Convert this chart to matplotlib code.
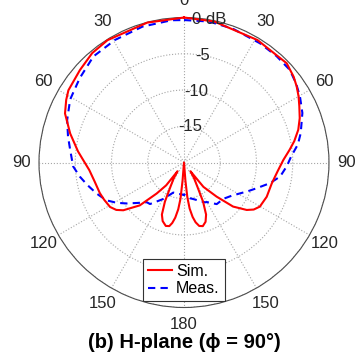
import numpy as np
import matplotlib.pyplot as plt

plt.rcParams['font.family'] = ['Liberation Sans', 'DejaVu Sans']

# simulated pattern (dB). right half: angle clockwise from 0; left half: angle counter-clockwise from 0
sim_right_ang = [0, 12, 31, 46, 52, 56, 60, 64, 69, 74, 79, 83, 88.6, 95, 103.3, 112.5, 120.2, 124,
                 127.1, 131.9, 136.3, 141.4, 143.5, 147, 151, 154, 157, 160, 163.5, 166.5, 169, 171,
                 173, 174.5, 175.5, 176.5, 180]
sim_right_db = [0, -0.1, -0.3, -0.3, -0.8, -1.25, -1.75, -2.3, -2.9, -3.6, -4.5, -5.3, -6.3, -7.0,
                -7.55, -7.65, -7.9, -8.4, -9.15, -10.9, -13.5, -15.7, -18.5, -17.5, -16.2, -14.0,
                -12.2, -11.3, -10.85, -11.0, -11.6, -12.4, -13.6, -15.2, -17.5, -20, -20]
sim_left_ang = [0, 14.7, 32, 40, 48.4, 58, 62, 67.6, 75.7, 84, 88, 94.6, 102, 110, 115, 121, 125,
                128.2, 134.1, 138.6, 142, 143.5, 147, 151, 154, 157, 160, 164, 167, 169, 171, 173,
                174.5, 175.5, 176.5, 180]
sim_left_db = [0, -0.05, -0.1, -0.3, -0.8, -1.2, -1.6, -2.25, -3.8, -5.3, -6.0, -6.9, -7.4, -7.65,
               -7.85, -8.1, -8.6, -9.35, -11.5, -14.3, -16.0, -18.5, -17.4, -16.1, -14.0, -12.2,
               -11.4, -10.9, -11.0, -11.5, -12.3, -13.5, -15.0, -17.5, -20, -20]

# measured pattern (dB)
meas_right_ang = [0, 10, 20, 32.5, 41, 48.8, 55, 60.4, 67.3, 75.9, 81, 86.8, 92, 98.3, 103.5, 109.4,
                  114, 119, 125, 132.5, 141.8, 150, 152.3, 158, 165.7, 170.5, 176, 180]
meas_right_db = [-0.35, -0.25, -0.35, -0.5, -0.55, -0.6, -1.1, -1.6, -2.3, -3.4, -4.1, -5.2, -5.8,
                 -6.6, -7.8, -9.35, -10.3, -11.2, -12.0, -12.6, -12.7, -13.7, -13.8, -14.3, -14.8,
                 -15.0, -15.4, -15.6]
meas_left_ang = [0, 5, 17, 29.4, 40.5, 51, 61, 70, 77.3, 83.6, 92, 97.7, 103, 109.5, 116, 121, 125.6,
                 131, 137, 140.7, 150.3, 160.4, 168, 175.8, 180]
meas_left_db = [-0.35, -0.3, -0.4, -0.6, -0.76, -1.5, -2.05, -2.85, -3.6, -4.2, -4.7, -5.5, -6.3,
                -7.2, -8.1, -9.2, -10.3, -11.5, -12.5, -12.6, -14.2, -15.6, -15.6, -15.6, -15.5]

r_ticks = [-15, -10, -5, 0]
r_labels = ['-15', '-10', '-5', '0 dB']
theta_ticks = [0, 30, 60, 90, 120, 150, 180, 210, 240, 270, 300, 330]
theta_labels = ['0', '30', '60', '90', '120', '150', '180', '150', '120', '90', '60', '30']


def full_circle(ang_r, db_r, ang_l, db_l):
    ang = list(ang_r) + [360 - a for a in ang_l[::-1]]
    db = list(db_r) + list(db_l[::-1])
    return np.deg2rad(ang), np.clip(db, -20, 0)


fig = plt.figure(figsize=(3.59, 3.56), dpi=100)
ax = fig.add_axes([0.1086, 0.1362, 0.8078, 0.8146], projection='polar')
ax.set_theta_zero_location('N')
ax.set_theta_direction(-1)
ax.set_rlim(-20, 0)

t, r = full_circle(sim_right_ang, sim_right_db, sim_left_ang, sim_left_db)
ax.plot(t, r, color='red', lw=1.5, label='Sim.', clip_on=False, zorder=4)
t, r = full_circle(meas_right_ang, meas_right_db, meas_left_ang, meas_left_db)
ax.plot(t, r, color='blue', lw=1.5, ls=(0, (3.5, 2.5)), label='Meas.', clip_on=False, zorder=3)

ax.set_xticks(np.deg2rad(theta_ticks))
ax.set_xticklabels(theta_labels, fontsize=12, color='0.15')
ax.tick_params(axis='x', pad=2)
ax.set_yticks(r_ticks)
ax.set_yticklabels([])
for v, s in zip(r_ticks, r_labels):
    ax.text(np.deg2rad(10), v, s, fontsize=12, color='0.15', ha='center', va='center', zorder=5)

ax.grid(True, color='0.65', ls=':', lw=0.8)
ax.spines['polar'].set_color('0.3')
ax.spines['polar'].set_linewidth(0.8)

leg = ax.legend(loc='lower center', bbox_to_anchor=(0.5, 0.022), borderaxespad=0, fontsize=11.5,
                fancybox=False, framealpha=1, edgecolor='0.2', handlelength=1.5, handletextpad=0.25,
                labelspacing=0.15, borderpad=0.3)
leg.get_frame().set_linewidth(0.8)

fig.text(0.514, 0.037, '(b) H-plane (\u03d5 = 90°)', fontsize=14.5, fontweight='bold',
         ha='center', va='center')

fig.savefig('out.png', dpi=100)
